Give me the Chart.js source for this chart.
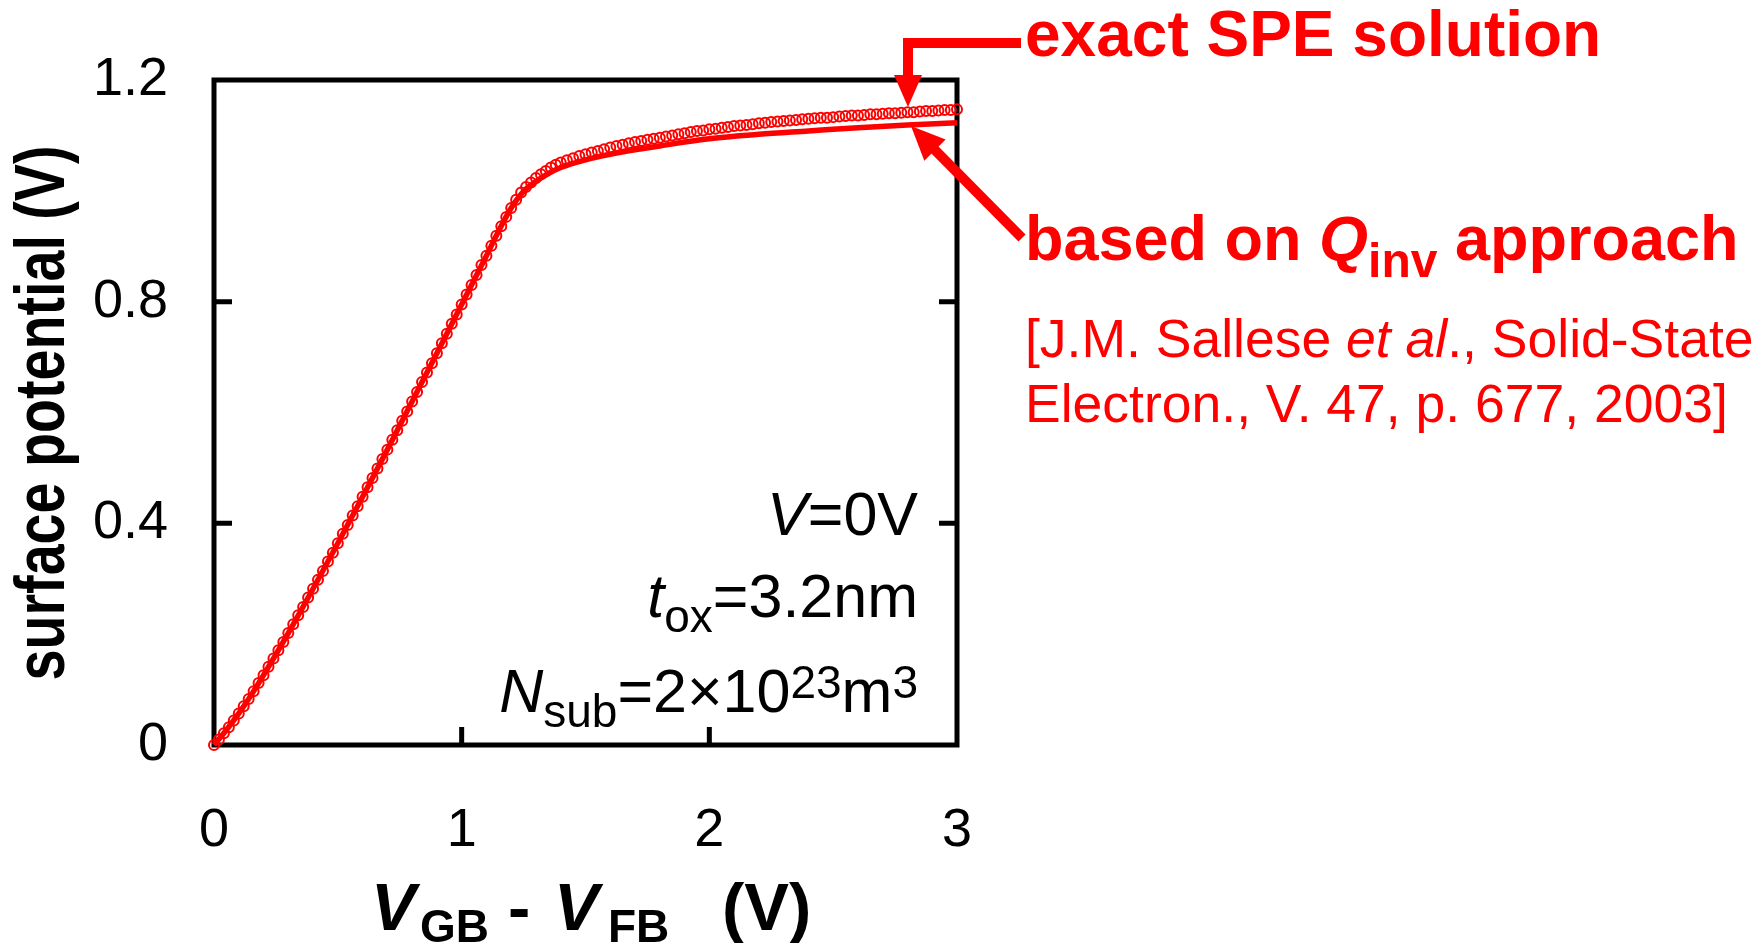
<!doctype html>
<html lang="en">
<head>
    <meta charset="utf-8">
    <title>Surface potential vs gate voltage</title>
    <script src="https://cdn.jsdelivr.net/npm/chart.js@4.4.1/dist/chart.umd.min.js"></script>
    <style>
        html, body { margin: 0; padding: 0; background: #fff; }
        #wrap { width: 1764px; height: 943px; }
    </style>
</head>
<body>
<div id="wrap"><canvas id="chart" width="1764" height="943"></canvas></div>
<script>
    // exact SPE solution (open circles)
    const xSpe = [
        0, 0.02, 0.04, 0.06, 0.08, 0.10, 0.12, 0.14, 0.16, 0.18,
        0.20, 0.22, 0.24, 0.26, 0.28, 0.30, 0.32, 0.34, 0.36, 0.38,
        0.40, 0.42, 0.44, 0.46, 0.48, 0.50, 0.52, 0.54, 0.56, 0.58,
        0.60, 0.62, 0.64, 0.66, 0.68, 0.70, 0.72, 0.74, 0.76, 0.78,
        0.80, 0.82, 0.84, 0.86, 0.88, 0.90, 0.92, 0.94, 0.96, 0.98,
        1.00, 1.02, 1.04, 1.06, 1.08, 1.10, 1.12, 1.14, 1.16, 1.18,
        1.20, 1.22, 1.24, 1.26, 1.28, 1.30, 1.32, 1.34, 1.36, 1.38,
        1.40, 1.425, 1.45, 1.475, 1.50, 1.525, 1.55, 1.575, 1.60, 1.625,
        1.65, 1.675, 1.70, 1.725, 1.75, 1.775, 1.80, 1.825, 1.85, 1.875,
        1.90, 1.925, 1.95, 1.975, 2.00, 2.025, 2.05, 2.075, 2.10, 2.125,
        2.15, 2.175, 2.20, 2.225, 2.25, 2.275, 2.30, 2.325, 2.35, 2.375,
        2.40, 2.425, 2.45, 2.475, 2.50, 2.525, 2.55, 2.575, 2.60, 2.625,
        2.65, 2.675, 2.70, 2.725, 2.75, 2.775, 2.80, 2.825, 2.85, 2.875,
        2.90, 2.925, 2.95, 2.975, 3.00
    ];
    const ySpe = [
        0, 0.010, 0.021, 0.032, 0.044, 0.057, 0.070, 0.083, 0.097, 0.112,
        0.126, 0.141, 0.156, 0.171, 0.186, 0.202, 0.218, 0.234, 0.249, 0.266,
        0.282, 0.298, 0.314, 0.331, 0.347, 0.364, 0.381, 0.397, 0.414, 0.431,
        0.448, 0.465, 0.482, 0.499, 0.516, 0.533, 0.551, 0.568, 0.585, 0.602,
        0.620, 0.637, 0.655, 0.672, 0.689, 0.707, 0.725, 0.742, 0.760, 0.777,
        0.795, 0.813, 0.830, 0.848, 0.866, 0.883, 0.901, 0.919, 0.936, 0.953,
        0.969, 0.984, 0.997, 1.007, 1.015, 1.023, 1.030, 1.036, 1.042, 1.047,
        1.051, 1.055, 1.059, 1.063, 1.066, 1.069, 1.072, 1.075, 1.078, 1.081,
        1.083, 1.086, 1.088, 1.090, 1.092, 1.094, 1.096, 1.098, 1.100, 1.102,
        1.104, 1.106, 1.108, 1.109, 1.111, 1.112, 1.114, 1.115, 1.117, 1.118,
        1.119, 1.120, 1.122, 1.123, 1.124, 1.125, 1.126, 1.127, 1.128, 1.129,
        1.130, 1.131, 1.132, 1.132, 1.133, 1.134, 1.135, 1.136, 1.136, 1.137,
        1.138, 1.138, 1.139, 1.140, 1.140, 1.141, 1.142, 1.142, 1.143, 1.144,
        1.144, 1.145, 1.146, 1.146, 1.147
    ];

    // based on Qinv approach (solid line)
    const xQinv = [0, 0.05, 0.1, 0.15, 0.2, 0.3, 0.4, 0.5, 0.6, 0.7, 0.8, 0.9, 1.0, 1.1, 1.15, 1.2,
        1.25, 1.3, 1.35, 1.4, 1.5, 1.6, 1.7, 1.8, 1.9, 2.0, 2.2, 2.4, 2.6, 2.8, 3.0];
    const yQinv = [0, 0.027, 0.057, 0.090, 0.126, 0.202, 0.282, 0.364, 0.448, 0.533, 0.620, 0.707, 0.795, 0.883, 0.928, 0.969,
        0.999, 1.017, 1.031, 1.042, 1.056, 1.066, 1.074, 1.081, 1.088, 1.094, 1.102, 1.108, 1.114, 1.119, 1.123];

    const xTicks = [0, 1, 2, 3];
    const yTicks = [0, 0.4, 0.8, 1.2];

    const RED = '#ff0000';
    const FONT = '"Liberation Sans", Arial, Helvetica, sans-serif';

    function pts(xs, ys) {
        return xs.map(function (x, i) { return {x: x, y: ys[i]}; });
    }

    // draw a run of text pieces: [text, font, dy]
    function rich(ctx, x, y, parts, align) {
        let total = 0;
        parts.forEach(function (p) {
            ctx.font = p[1];
            p.w = ctx.measureText(p[0]).width;
            total += p.w;
        });
        let cx = align === 'right' ? x - total : x;
        parts.forEach(function (p) {
            ctx.font = p[1];
            ctx.fillText(p[0], cx, y + (p[2] || 0));
            cx += p.w;
        });
    }

    function arrowHead(ctx, tx, ty, ux, uy, len, half) {
        let bx = tx + ux * len, by = ty + uy * len;
        ctx.beginPath();
        ctx.moveTo(tx, ty);
        ctx.lineTo(bx - uy * half, by + ux * half);
        ctx.lineTo(bx + uy * half, by - ux * half);
        ctx.closePath();
        ctx.fill();
    }

    const framePlugin = {
        id: 'frame',
        beforeDatasetsDraw(chart) {
            const ctx = chart.ctx, a = chart.chartArea;
            const xs = chart.scales.x, ys = chart.scales.y;
            ctx.save();
            ctx.strokeStyle = '#000';
            ctx.lineWidth = 5;
            ctx.strokeRect(a.left, a.top, a.right - a.left, a.bottom - a.top);
            // inward ticks
            const tl = 18;
            ctx.beginPath();
            yTicks.slice(1, -1).forEach(function (v) {
                let py = ys.getPixelForValue(v);
                ctx.moveTo(a.left, py); ctx.lineTo(a.left + tl, py);
                ctx.moveTo(a.right, py); ctx.lineTo(a.right - tl, py);
            });
            xTicks.slice(1, -1).forEach(function (v) {
                let px = xs.getPixelForValue(v);
                ctx.moveTo(px, a.bottom); ctx.lineTo(px, a.bottom - tl);
            });
            ctx.stroke();
            ctx.restore();
        },
        afterDraw(chart) {
            const ctx = chart.ctx;
            ctx.save();
            ctx.textBaseline = 'alphabetic';

            // y axis title
            ctx.fillStyle = '#000';
            ctx.save();
            ctx.translate(64, 413);
            ctx.rotate(-Math.PI / 2);
            ctx.font = 'bold 70px ' + FONT;
            let t = 'surface potential (V)';
            let k = 535 / ctx.measureText(t).width;
            ctx.scale(k, 1);
            ctx.textAlign = 'center';
            ctx.fillText(t, 0, 0);
            ctx.restore();

            // x axis title
            ctx.textAlign = 'left';
            const bi = 'italic bold 67px ' + FONT, b = 'bold 67px ' + FONT, bs = 'bold 46px ' + FONT;
            ctx.font = bi; ctx.fillText('V', 371, 930);
            ctx.font = bs; ctx.fillText('GB', 420, 942);
            ctx.font = b; ctx.fillText('-', 508, 930);
            ctx.font = bi; ctx.fillText('V', 554, 930);
            ctx.font = bs; ctx.fillText('FB', 608, 942);
            ctx.font = b; ctx.fillText('(V)', 722, 930);

            // conditions inside the plot
            const n = '61px ' + FONT, it = 'italic 61px ' + FONT, sm = '46px ' + FONT;
            rich(ctx, 918, 535, [['V', it], ['=0V', n]], 'right');
            rich(ctx, 918, 617, [['t', it], ['ox', sm, 15], ['=3.2nm', n]], 'right');
            rich(ctx, 918, 712, [['N', it], ['sub', sm, 15], ['=2\u00d710', n], ['23', sm, -14], ['m', n], ['3', sm, -14]], 'right');

            // annotations
            ctx.fillStyle = RED;
            ctx.strokeStyle = RED;
            ctx.font = 'bold 64px ' + FONT;
            ctx.fillText('exact SPE solution', 1025, 56);
            rich(ctx, 1025, 260, [['based on ', 'bold 63px ' + FONT], ['Q', 'italic bold 63px ' + FONT],
                ['inv', 'bold 48px ' + FONT, 17], [' approach', 'bold 63px ' + FONT]], 'left');
            rich(ctx, 1025, 357, [['[J.M. Sallese ', '53.5px ' + FONT], ['et al', 'italic 53.5px ' + FONT],
                ['., Solid-State', '53.5px ' + FONT]], 'left');
            ctx.font = '53.5px ' + FONT;
            ctx.fillText('Electron., V. 47, p. 677, 2003]', 1025, 422);

            // arrows
            ctx.lineWidth = 10;
            ctx.lineJoin = 'miter';
            ctx.beginPath();
            ctx.moveTo(1021, 43);
            ctx.lineTo(908, 43);
            ctx.lineTo(908, 80);
            ctx.stroke();
            arrowHead(ctx, 908, 107, 0, -1, 32, 14);

            ctx.beginPath();
            ctx.moveTo(1022, 238);
            ctx.lineTo(930, 145);
            ctx.stroke();
            arrowHead(ctx, 911, 126, 0.705, 0.711, 34, 15);
            ctx.restore();
        }
    };

    const tickFont = {family: FONT, size: 54};

    new Chart(document.getElementById('chart'), {
        type: 'scatter',
        data: {
            datasets: [{
                label: 'exact SPE solution',
                data: pts(xSpe, ySpe),
                showLine: false,
                pointStyle: 'circle',
                pointRadius: 5,
                pointBorderWidth: 2,
                pointBorderColor: RED,
                pointBackgroundColor: 'rgba(255,255,255,0)',
                clip: 10
            }, {
                label: 'based on Qinv approach',
                data: pts(xQinv, yQinv),
                showLine: true,
                borderColor: RED,
                borderWidth: 5.5,
                pointRadius: 0,
                cubicInterpolationMode: 'monotone',
                clip: 10
            }]
        },
        options: {
            responsive: false,
            devicePixelRatio: 1,
            animation: false,
            events: [],
            layout: {padding: {top: 80, right: 807, left: 0, bottom: 0}},
            plugins: {legend: {display: false}, tooltip: {enabled: false}},
            scales: {
                x: {
                    type: 'linear', min: 0, max: 3,
                    afterFit: function (s) { s.height = 198; },
                    afterBuildTicks: function (s) { s.ticks = xTicks.map(function (v) { return {value: v}; }); },
                    grid: {display: false},
                    border: {display: false},
                    ticks: {font: tickFont, color: '#000', padding: 46, maxRotation: 0}
                },
                y: {
                    type: 'linear', min: 0, max: 1.2,
                    afterFit: function (s) { s.width = 214; },
                    afterBuildTicks: function (s) { s.ticks = yTicks.map(function (v) { return {value: v}; }); },
                    grid: {display: false},
                    border: {display: false},
                    ticks: {
                        font: tickFont, color: '#000', padding: 38,
                        callback: function (v) { return v === 0 ? '0' : v.toFixed(1); }
                    }
                }
            }
        },
        plugins: [framePlugin]
    });
</script>
</body>
</html>
